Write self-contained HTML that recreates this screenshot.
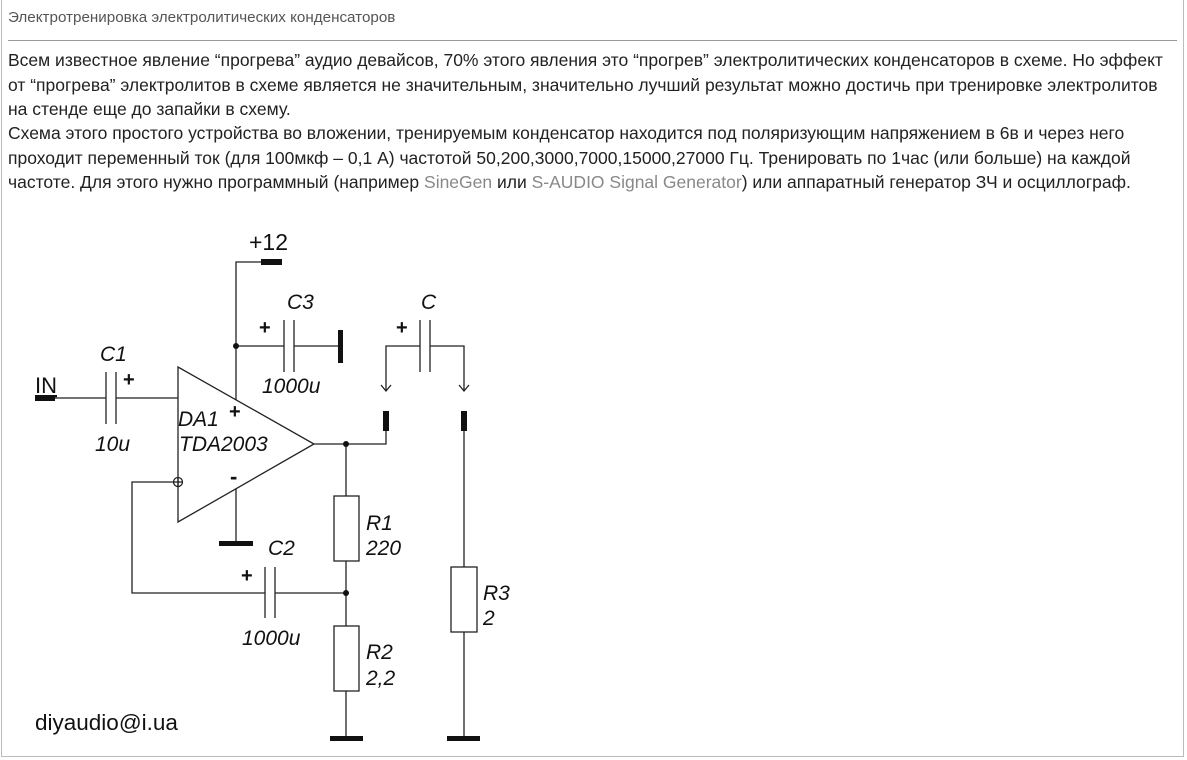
<!DOCTYPE html>
<html><head><meta charset="utf-8"><style>
body{margin:0;width:1187px;height:760px;background:#fff;overflow:hidden;position:relative;font-family:"Liberation Sans",Arial,sans-serif}
.frame{position:absolute;left:1px;top:-2px;width:1183px;height:759px;border:1px solid #bbb;box-sizing:border-box}
.t{position:absolute;left:8px;font-size:17.5px;color:#222;white-space:nowrap;line-height:20px}
.g{color:#888}
</style></head><body>
<div class="frame"></div>
<div style="position:absolute;left:8px;top:9px;font-size:15.2px;color:#555;white-space:nowrap">Электротренировка электролитических конденсаторов</div>
<div style="position:absolute;left:8px;top:40px;width:1169px;height:1px;background:#999"></div>
<div class="t" style="top:50px">Всем известное явление “прогрева” аудио девайсов, 70% этого явления это “прогрев” электролитических конденсаторов в схеме. Но эффект</div>
<div class="t" style="top:75px">от “прогрева” электролитов в схеме является не значительным, значительно лучший результат можно достичь при тренировке электролитов</div>
<div class="t" style="top:99px">на стенде еще до запайки в схему.</div>
<div class="t" style="top:123px">Схема этого простого устройства во вложении, тренируемым конденсатор находится под поляризующим напряжением в 6в и через него</div>
<div class="t" style="top:148px">проходит переменный ток (для 100мкф – 0,1 А) частотой 50,200,3000,7000,15000,27000 Гц. Тренировать по 1час (или больше) на каждой</div>
<div class="t" style="top:172px">частоте. Для этого нужно программный (например <span class="g">SineGen</span> или <span class="g">S-AUDIO Signal Generator</span>) или аппаратный генератор ЗЧ и осциллограф.</div>
<svg width="1187" height="760" style="position:absolute;left:0;top:0" font-family="Liberation Sans, Arial, sans-serif">
<g stroke="#222" stroke-width="1.3" fill="none">
<line x1="55" y1="398" x2="106" y2="398"/><line x1="116" y1="398" x2="178" y2="398"/>
<line x1="106" y1="372" x2="106" y2="424"/><line x1="116" y1="372" x2="116" y2="424"/>
<polygon points="178,367 178,522 314,444"/>
<polyline points="261,262 236,262 236,400"/>
<line x1="236" y1="346" x2="284" y2="346"/><line x1="294" y1="346" x2="341" y2="346"/>
<line x1="284" y1="320" x2="284" y2="372"/><line x1="294" y1="320" x2="294" y2="372"/>
<polyline points="386,390 386,346 420,346"/><polyline points="430,346 464,346 464,390"/>
<line x1="420" y1="320" x2="420" y2="372"/><line x1="430" y1="320" x2="430" y2="372"/>
<polyline points="381,385 386,391 391,385"/><polyline points="459,385 464,391 469,385"/>
<polyline points="314,444 386,444 386,430"/>
<line x1="346" y1="444" x2="346" y2="496"/>
<rect x="334" y="496" width="25" height="65"/>
<line x1="346" y1="561" x2="346" y2="626"/>
<rect x="334" y="626" width="25" height="65"/>
<line x1="346" y1="691" x2="346" y2="738"/>
<line x1="464" y1="430" x2="464" y2="567"/>
<rect x="451" y="567" width="26" height="65"/>
<line x1="464" y1="632" x2="464" y2="738"/>
<polyline points="174,482 132,482 132,593 265,593"/>
<line x1="275" y1="593" x2="346" y2="593"/>
<line x1="265" y1="567" x2="265" y2="618"/><line x1="275" y1="567" x2="275" y2="618"/>
<circle cx="178" cy="482" r="4.5"/>
<line x1="173.5" y1="482" x2="182.5" y2="482"/><line x1="178" y1="477.5" x2="178" y2="486.5"/>
<line x1="236" y1="489" x2="236" y2="543"/>
</g>
<g fill="#111">
<rect x="35" y="395" width="20" height="6"/>
<rect x="261" y="259" width="21" height="6"/>
<rect x="338" y="330" width="5" height="33"/>
<rect x="383" y="411" width="6" height="20"/>
<rect x="461" y="411" width="6" height="20"/>
<rect x="219" y="541" width="34" height="5"/>
<rect x="330" y="736" width="33" height="5"/>
<rect x="447" y="736" width="33" height="5"/>
<circle cx="236" cy="346" r="3"/><circle cx="346" cy="444" r="3"/><circle cx="346" cy="593" r="3"/>
</g>
<g fill="#111" font-size="21" font-style="italic">
<text x="100" y="361">C1</text><text x="95" y="451">10u</text>
<text x="287" y="309">C3</text><text x="262" y="393">1000u</text>
<text x="421" y="309">C</text>
<text x="178" y="426">DA1</text><text x="179" y="451">TDA2003</text>
<text x="366" y="530">R1</text><text x="366" y="555">220</text>
<text x="366" y="659">R2</text><text x="366" y="685">2,2</text>
<text x="483" y="600">R3</text><text x="483" y="625">2</text>
<text x="268" y="555">C2</text><text x="242" y="645">1000u</text>
</g>
<g fill="#111" font-size="22">
<text x="35" y="393" text-decoration="underline">IN</text>
<text x="249" y="250" font-size="23">+12</text>
<text x="123" y="386" font-weight="bold" font-size="20">+</text>
<text x="259" y="334" font-weight="bold" font-size="20">+</text><text x="396" y="334" font-weight="bold" font-size="20">+</text>
<text x="229" y="418" font-weight="bold" font-size="20">+</text><text x="230" y="484" font-weight="bold">-</text>
<text x="241" y="582" font-weight="bold" font-size="20">+</text>
<text x="35" y="730" font-size="22.5">diyaudio@i.ua</text>
</g>
</svg>
</body></html>
